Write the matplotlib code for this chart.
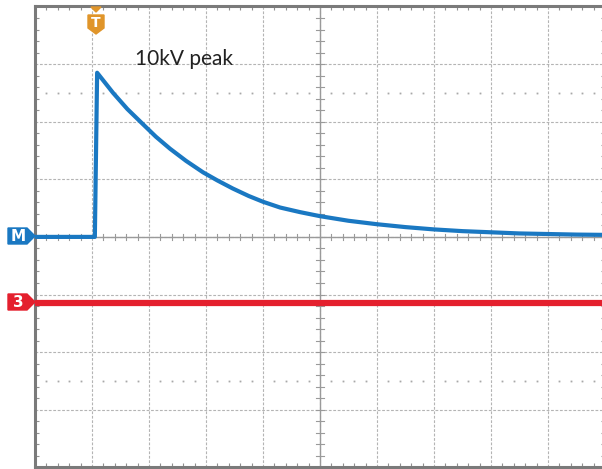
import numpy as np
import matplotlib.pyplot as plt
from matplotlib.patches import Polygon

# values, in graticule divisions (x: 0..10, y: -4..4)
blue_x = [0.0, 1.05, 1.09, 1.37, 1.62, 1.88, 2.12, 2.37, 2.65, 2.95, 3.2, 3.47,
          3.75, 4.0, 4.3, 4.65, 5.0, 5.5, 6.0, 6.5, 7.0, 7.5, 8.0, 8.5, 9.0, 9.5, 10.0]
blue_y = [0.0, 0.0, 2.85, 2.50, 2.22, 1.97, 1.74, 1.53, 1.32, 1.12, 0.98, 0.84,
          0.71, 0.61, 0.51, 0.43, 0.36, 0.28, 0.22, 0.17, 0.13, 0.10, 0.08, 0.06,
          0.05, 0.04, 0.035]
red_x = [0.0, 10.0]
red_y = [-1.15, -1.15]
label_text = "10kV peak"

W, H = 602, 469
fig = plt.figure(figsize=(W / 100, H / 100), dpi=100)
ax = fig.add_axes([35 / W, (H - 467.3) / H, 570 / W, 460.8 / H])
ax.set_xlim(0, 10)
ax.set_ylim(-4, 4)

# graticule
for x in range(1, 10):
    ax.axvline(x, color='#b4b4b4', lw=0.8, ls=(0, (2.5, 1.5)), zorder=1)
for y in range(-3, 4):
    ax.axhline(y, color='#b4b4b4', lw=0.8, ls=(0, (2.5, 1.5)), zorder=1)
ax.axvline(5, color='#9a9a9a', lw=1.0, zorder=1)
ax.axhline(0, color='#9a9a9a', lw=1.0, zorder=1)

minor = np.arange(0.2, 10, 0.2)
minor = minor[np.abs(minor - np.round(minor)) > 0.05]
for yy in (2.5, -2.5):
    ax.plot(minor, np.full(len(minor), yy), ls='none', marker='s', ms=1.3,
            color='#a8a8a8', mec='none', zorder=1)
# center crosshair ticks
for t in minor:
    ax.plot([t, t], [-0.05, 0.05], color='#9a9a9a', lw=0.8, zorder=1)
minor_y = np.arange(-3.8, 4, 0.2)
for t in minor_y:
    ax.plot([4.93, 5.07], [t, t], color='#9a9a9a', lw=0.8, zorder=1)

ax.set_xticks(np.arange(0, 11, 1))
ax.set_yticks(np.arange(-4, 5, 1))
ax.set_xticks(np.arange(0, 10.01, 0.2), minor=True)
ax.set_yticks(np.arange(-4, 4.01, 0.2), minor=True)
ax.tick_params(which='both', direction='in', top=True, right=True,
               labelbottom=False, labelleft=False, color='#909090')
ax.tick_params(which='major', length=0)
ax.tick_params(which='minor', length=3, width=0.8)
for s in ax.spines.values():
    s.set_color('#7a7a7a')
    s.set_linewidth(2.2)

# traces
ax.plot(red_x, red_y, color='#e4202e', lw=4.5, solid_capstyle='butt', zorder=3)
ax.plot(blue_x, blue_y, color='#1a78c2', lw=3, zorder=4, solid_joinstyle='round')

ax.text(1.75, 2.98, label_text, fontsize=15, family='Lato', color='#222222',
        ha='left', va='baseline')


def pix(pts):
    return [(px / W, 1 - py / H) for px, py in pts]


def side_marker(yc, color, txt):
    poly = Polygon(pix([(8, yc - 8), (27, yc - 8), (35, yc), (27, yc + 8), (8, yc + 8)]),
                   closed=True, transform=fig.transFigure, color=color, zorder=10)
    fig.patches.append(poly)
    fig.text(18 / W, 1 - yc / H, txt, color='white', fontsize=11, fontweight='bold',
             ha='center', va='center', zorder=11)


side_marker(236, '#1a78c2', 'M')
side_marker(302, '#e4202e', '3')

# trigger marker
tx = 96
tri = Polygon(pix([(tx - 5, 7), (tx + 5, 7), (tx, 12)]), closed=True,
              transform=fig.transFigure, color='#e0952a', zorder=10)
tbox = Polygon(pix([(tx - 8, 15), (tx + 8, 15), (tx + 8, 28), (tx, 34), (tx - 8, 28)]),
               closed=True, transform=fig.transFigure, color='#e0952a', zorder=10)
fig.patches.append(tri)
fig.patches.append(tbox)
fig.text(tx / W, 1 - 23 / H, 'T', color='white', fontsize=10, fontweight='bold',
         ha='center', va='center', zorder=11)

fig.savefig('out.png', dpi=100)
